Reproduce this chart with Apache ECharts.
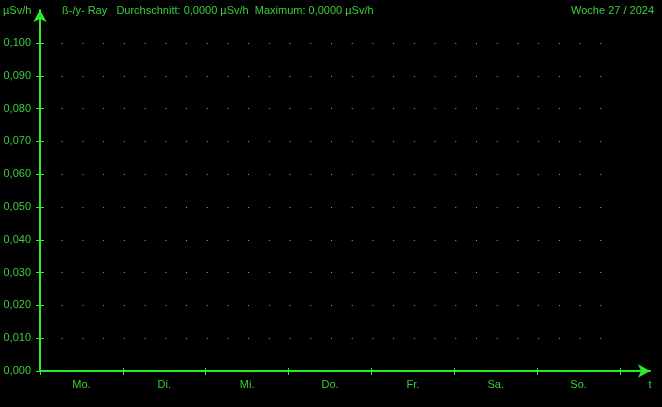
<!DOCTYPE html>
<html>
<head>
<meta charset="utf-8">
<script src="https://cdn.jsdelivr.net/npm/echarts@6/dist/echarts.min.js"></script>
<style>
html,body{margin:0;padding:0;background:#000;}
#c{width:662px;height:407px;}
</style>
</head>
<body>
<div id="c"></div>
<script>
var days = ['Mo.', 'Di.', 'Mi.', 'Do.', 'Fr.', 'Sa.', 'So.'];
var yMin = 0;
var yMax = 0.1;
var yStep = 0.01;
var seriesValues = [];   // no measured values this week
var unitLabel = 'µSv/h';
var headerText = 'ß-/y- Ray   Durchschnitt: 0,0000 µSv/h  Maximum: 0,0000 µSv/h';
var weekText = 'Woche 27 / 2024';
var timeLabel = 't';

var lineColor = '#2fe82f';
var textColor = '#3ccc3c';
var dotColor = '#66c866';
var font = "'Liberation Sans', Arial, sans-serif";

var chart = echarts.init(document.getElementById('c'), null, {renderer: 'canvas'});
var fmtY = function (v) { return v.toFixed(3).replace('.', ','); };
var titleStyle = {color: textColor, fontSize: 11, fontWeight: 'normal', fontFamily: font};

chart.setOption({
  backgroundColor: '#000',
  animation: false,
  textStyle: {fontFamily: font},
  title: [
    {text: unitLabel, left: 3, top: 5, padding: 0, textStyle: titleStyle},
    {text: headerText, left: 62, top: 5, padding: 0, textStyle: titleStyle},
    {text: weekText, right: 8, top: 5, padding: 0, textStyle: titleStyle}
  ],
  grid: [
    {left: 40, right: 42, top: 43, bottom: 36, containLabel: false},
    {left: 40, right: 12, top: 10, bottom: 36, containLabel: false}
  ],
  xAxis: [
    {
      gridIndex: 0, type: 'category', data: days, boundaryGap: true,
      axisLine: {show: false},
      axisTick: {show: true, length: 4, lineStyle: {color: lineColor, width: 1}},
      axisLabel: {color: textColor, fontSize: 11, margin: 8, fontFamily: font},
      splitLine: {show: false}
    },
    {
      gridIndex: 0, type: 'category', data: days, boundaryGap: true, position: 'bottom',
      axisLine: {show: false},
      axisTick: {show: true, inside: true, length: 3, lineStyle: {color: lineColor, width: 1}},
      axisLabel: {show: false},
      splitLine: {show: false}
    },
    {
      gridIndex: 1, type: 'value', min: 0, max: 1,
      axisLine: {show: true, symbol: ['none', 'arrow'], symbolSize: [10, 12], lineStyle: {color: lineColor, width: 2}},
      axisTick: {show: false},
      axisLabel: {show: true, customValues: [1], formatter: function () { return timeLabel; }, color: textColor, fontSize: 11, margin: 8, fontFamily: font},
      splitLine: {show: false}
    }
  ],
  yAxis: [
    {
      gridIndex: 0, type: 'value', min: yMin, max: yMax, interval: yStep,
      axisLine: {show: false},
      axisTick: {show: true, length: 4, lineStyle: {color: lineColor, width: 1}},
      axisLabel: {color: textColor, fontSize: 11, margin: 9, formatter: fmtY, fontFamily: font},
      splitLine: {show: true, lineStyle: {color: dotColor, width: 1, type: [1, 580 / 28 - 1], dashOffset: -1}}
    },
    {
      gridIndex: 0, type: 'value', min: yMin, max: yMax, interval: yStep, position: 'left',
      axisLine: {show: false},
      axisTick: {show: true, inside: true, length: 4, lineStyle: {color: lineColor, width: 1}},
      axisLabel: {show: false},
      splitLine: {show: false}
    },
    {
      gridIndex: 1, type: 'value', min: 0, max: 1,
      axisLine: {show: true, symbol: ['none', 'arrow'], symbolSize: [10, 12], lineStyle: {color: lineColor, width: 2}},
      axisTick: {show: false},
      axisLabel: {show: false},
      splitLine: {show: false}
    }
  ],
  series: [
    {
      type: 'line', xAxisIndex: 0, yAxisIndex: 0, data: seriesValues,
      showSymbol: false, lineStyle: {color: lineColor, width: 1}
    }
  ]
});
</script>
</body>
</html>
